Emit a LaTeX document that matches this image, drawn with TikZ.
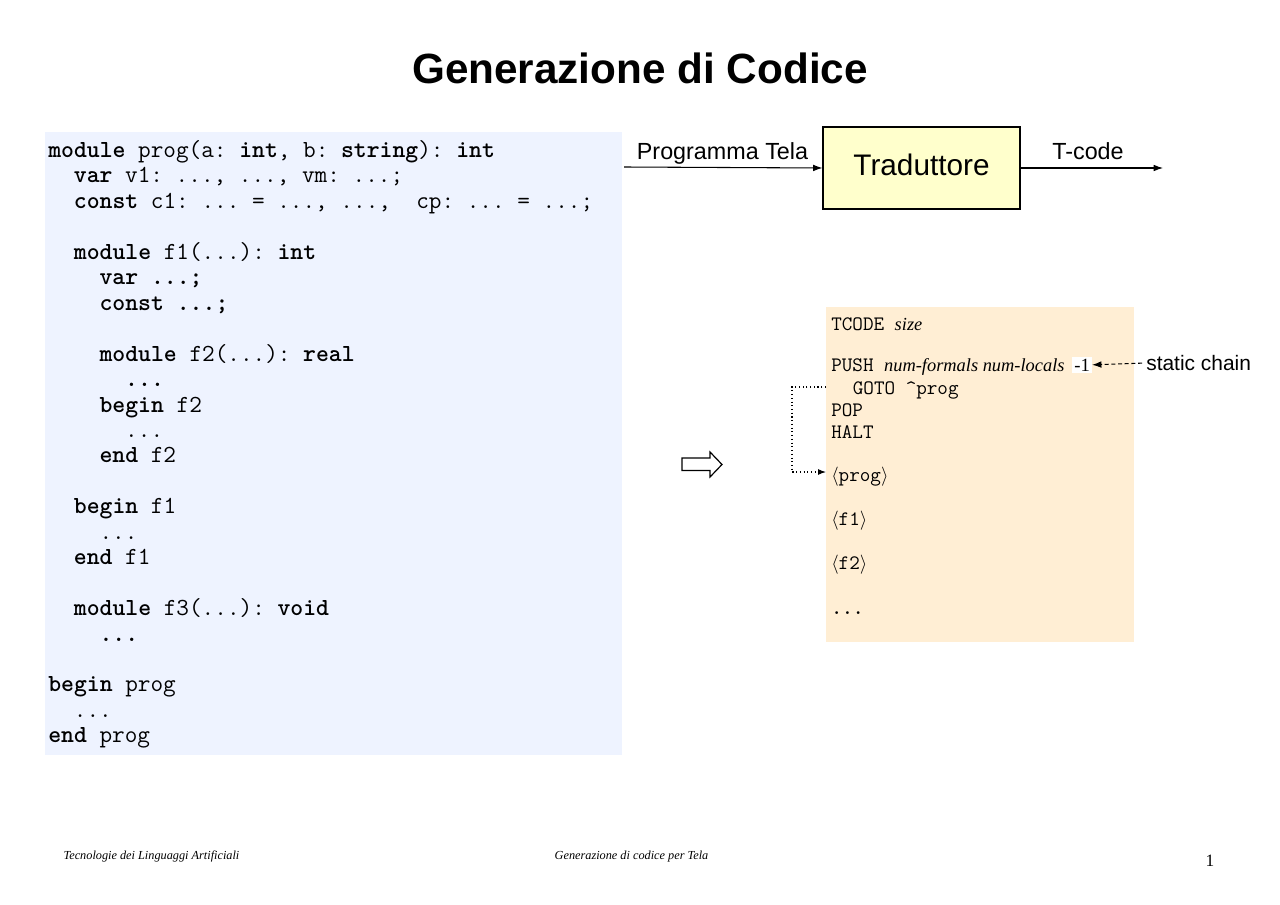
\documentclass[tikz,border=0pt]{standalone}
\usepackage{fontspec}
\setmainfont{Liberation Serif}
\newfontfamily\sansf{Liberation Sans}
\usetikzlibrary{arrows.meta}
\definecolor{codebg}{HTML}{EEF3FF}
\definecolor{tcodebg}{HTML}{FFEED4}
\definecolor{boxyellow}{HTML}{FFFFCC}
\tikzset{
  codeln/.style={anchor=base west, inner sep=0pt, font=\ttfamily\frenchspacing\fontsize{18.4}{18.4}\selectfont},
  tcln/.style={anchor=base west, inner sep=0pt, font=\ttfamily\frenchspacing\fontsize{15.4}{15.4}\selectfont},
  sanslbl/.style={inner sep=0pt, font=\sansf\fontsize{17.5}{17.5}\selectfont},
  arr/.style={-{Latex[length=7pt,width=5pt]}, line width=0.8pt},
  foot/.style={inner sep=0pt, anchor=base, font=\itshape\fontsize{9.2}{9.2}\selectfont}
}
\newcommand{\kw}[1]{\textbf{#1}}
\newcommand{\ital}[1]{{\rmfamily\itshape\fontsize{13.8}{13.8}\selectfont #1}}
\begin{document}
\begin{tikzpicture}[x=0.75pt,y=-0.75pt]
\useasboundingbox[fill=white] (0,0) rectangle (1280,905);
% title
\node[inner sep=0pt, font=\sansf\bfseries\fontsize{31.7}{32}\selectfont] (title) at (640,68) {Generazione di Codice};
% code panel
\fill[codebg] (45,132) rectangle (622,755);
\def\cw{12.83}
\def\lh{25.45}
\def\by{157.5}
\node[codeln] (c0) at (48,{\by+0*\lh}) {\kw{module} prog(a: \kw{int}, b: \kw{string}): \kw{int}};
\node[codeln] (c1) at ({48+2*\cw},{\by+1*\lh}) {\kw{var} v1: ..., ..., vm: ...;};
\node[codeln] (c2) at ({48+2*\cw},{\by+2*\lh}) {\kw{const} c1: ... = ..., ...,~~cp: ... = ...;};
\node[codeln] (c4) at ({48+2*\cw},{\by+4*\lh}) {\kw{module} f1(...): \kw{int}};
\node[codeln] (c5) at ({48+4*\cw},{\by+5*\lh}) {\kw{var ...;}};
\node[codeln] (c6) at ({48+4*\cw},{\by+6*\lh}) {\kw{const ...;}};
\node[codeln] (c8) at ({48+4*\cw},{\by+8*\lh}) {\kw{module} f2(...): \kw{real}};
\node[codeln] (c9) at ({48+6*\cw},{\by+9*\lh}) {\kw{...}};
\node[codeln] (c10) at ({48+4*\cw},{\by+10*\lh}) {\kw{begin} f2};
\node[codeln] (c11) at ({48+6*\cw},{\by+11*\lh}) {...};
\node[codeln] (c12) at ({48+4*\cw},{\by+12*\lh}) {\kw{end} f2};
\node[codeln] (c14) at ({48+2*\cw},{\by+14*\lh}) {\kw{begin} f1};
\node[codeln] (c15) at ({48+4*\cw},{\by+15*\lh}) {...};
\node[codeln] (c16) at ({48+2*\cw},{\by+16*\lh}) {\kw{end} f1};
\node[codeln] (c18) at ({48+2*\cw},{\by+18*\lh}) {\kw{module} f3(...): \kw{void}};
\node[codeln] (c19) at ({48+4*\cw},{\by+19*\lh}) {\kw{...}};
\node[codeln] (c21) at (48,{\by+21*\lh}) {\kw{begin} prog};
\node[codeln] (c22) at ({48+2*\cw},{\by+22*\lh}) {...};
\node[codeln] (c23) at (48,{\by+23*\lh}) {\kw{end} prog};
% translator
\node[draw, line width=0.8pt, fill=boxyellow, minimum width=197*0.75pt, minimum height=82*0.75pt, inner sep=0pt] (trad) at (921.5,168) {};
\node[inner sep=0pt, font=\sansf\fontsize{22.3}{22.3}\selectfont] (tradlbl) at (921.5,165) {Traduttore};
\coordinate (inS) at (624,167);
\coordinate (outE) at (1163,168);
\draw[arr] (inS) -- (trad.west);
\draw[arr] (trad.east) -- (outE);
\node[sanslbl, anchor=base] (lblin) at (722.5,160) {Programma Tela};
\node[sanslbl, anchor=base] (lblout) at (1088,160) {T-code};
% hollow arrow
\draw[line width=0.9pt, fill=white] (682,458) -- (710,458) -- (710,452) -- (722,464.5) -- (710,477) -- (710,470.5) -- (682,470.5) -- cycle;
% tcode panel
\fill[tcodebg] (826,307) rectangle (1134,642);
\node[tcln] (t0) at (831,330) {TCODE \ital{size}};
\node[tcln] (t1) at (831,371) {PUSH \ital{num-formals num-locals}};
\node[inner sep=1.5pt, fill=white, anchor=base west, font=\fontsize{14}{14}\selectfont] (m1) at (1072,371) {-1};
\node[tcln] (t2) at ({831+2*10.8},394) {GOTO \textasciicircum prog};
\node[tcln] (t3) at (831,416) {POP};
\node[tcln] (t4) at (831,438) {HALT};
\node[tcln] (t5) at (831,481) {$\langle$prog$\rangle$};
\node[tcln] (t6) at (831,525) {$\langle$f1$\rangle$};
\node[tcln] (t7) at (831,569) {$\langle$f2$\rangle$};
\node[tcln] (t8) at (831,614) {\textbf{...}};
% static chain
\node[inner sep=0pt, anchor=west, font=\sansf\fontsize{15.7}{15.7}\selectfont] (sc) at (1146,363) {static chain};
\draw[-{Latex[length=7pt,width=5pt]}, line width=0.8pt, dash pattern=on 3pt off 2pt, shorten <=3pt] (sc.west) -- (m1.east);
% dotted jump
\coordinate (g1) at (826,387);
\coordinate (g2) at (792,387);
\coordinate (g3) at (792,472);
\coordinate (g4) at (826,472);
\draw[-{Latex[length=6pt,width=4.5pt]}, line width=0.8pt, dotted] (g1) -- (g2) -- (g3) -- (g4);
% footer
\node[foot] (f1) at (151.5,859) {Tecnologie dei Linguaggi Artificiali};
\node[foot] (f2) at (631.5,859) {Generazione di codice per Tela};
\node[inner sep=0pt, anchor=base, font=\fontsize{13}{13}\selectfont] (pg) at (1210,866) {1};
\end{tikzpicture}
\end{document}
